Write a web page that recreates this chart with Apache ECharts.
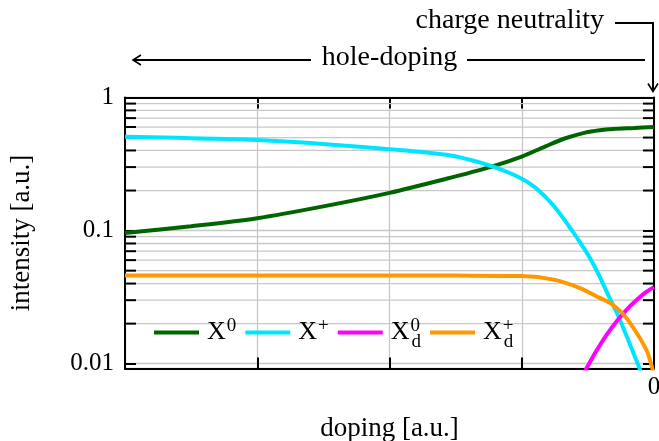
<!DOCTYPE html>
<html>
<head>
<meta charset="utf-8">
<script src="https://cdn.jsdelivr.net/npm/echarts@6/dist/echarts.min.js"></script>
<style>
html,body{margin:0;padding:0;background:#fff;}
#chart{width:659px;height:441px;}
</style>
</head>
<body>
<div id="chart"></div>
<script>
// ---- data ----
const xTickLabels = ['', '', '', '', '0'];
const yTickLabels = ['0.01', '0.1', '1'];
const minorYValues = [0.02,0.03,0.04,0.05,0.06,0.07,0.08,0.09,0.2,0.3,0.4,0.5,0.6,0.7,0.8,0.9];

const neutralDoping    = [-4, -3.5, -3, -2.5, -2, -1.57, -1.24, -1.0, -0.82, -0.67, -0.52, -0.41, -0.31, -0.15, 0];
const neutralIntensity = [0.096, 0.108, 0.124, 0.152, 0.192, 0.245, 0.30, 0.36, 0.43, 0.494, 0.545, 0.568, 0.58, 0.59, 0.60];

const chargedDoping    = [-4, -3.5, -3, -2.5, -2, -1.57, -1.4, -1.22, -1.1, -1.0, -0.93, -0.862, -0.8, -0.736, -0.635, -0.547, -0.45, -0.333, -0.27, -0.118, 0];
const chargedIntensity = [0.508, 0.495, 0.48, 0.447, 0.409, 0.371, 0.342, 0.303, 0.2733, 0.2455, 0.2225, 0.1957, 0.1705, 0.1442, 0.105, 0.0782, 0.054, 0.0308, 0.0228, 0.00968, 0.00476];

const darkNeutralDoping    = [-0.57, -0.509, -0.4345, -0.361, -0.285, -0.2095, -0.134, -0.058, 0];
const darkNeutralIntensity = [0.0072, 0.0093, 0.01254, 0.01633, 0.02065, 0.0253, 0.030, 0.0346, 0.0376];

const darkChargedDoping    = [-4, -3, -2, -1.5, -1.0, -0.76, -0.56, -0.41, -0.333, -0.232, -0.131, -0.055, -0.02, 0];
const darkChargedIntensity = [0.046, 0.046, 0.046, 0.0459, 0.0455, 0.0428, 0.037, 0.0312, 0.0286, 0.0235, 0.017, 0.0125, 0.0098, 0.0082];

const seriesNames = ['X0', 'X+', 'Xd0', 'Xd+'];
const seriesColors = ['#006400', '#00e5ff', '#ff00ff', '#ff9800'];
const seriesSmooth = [0.3, 0.45, 0.3, 0.3];

// ---- chart ----
const FONT = 'Liberation Serif';
const X_MIN = -4, X_MAX = 0, Y_MIN = 0.0092, Y_MAX = 1;

function zip(xs, ys) { return xs.map((x, i) => [x, ys[i]]); }
function isDecade(v) { const l = Math.log10(v); return Math.abs(l - Math.round(l)) < 1e-6; }
function decadeLabel(v) {
  if (!isDecade(v)) return '';
  const l = Math.round(Math.log10(v));
  return yTickLabels[l + 2] || '';
}
const legendText = {
  'X0': '{b|X}{sup|0}',
  'X+': '{b|X}{sup|+}',
  'Xd0': '{b|X}{supz|0}{sub|d}',
  'Xd+': '{b|X}{supz|+}{sub|d}'
};

const chart = echarts.init(document.getElementById('chart'), null, {renderer: 'canvas'});

const gridStyle = {color: '#c8c8c8', width: 1.3};
const axisLineStyle = {color: '#000', width: 2};
const tickStyle = {color: '#000', width: 2};

const lineSeries = [
  [neutralDoping, neutralIntensity],
  [chargedDoping, chargedIntensity],
  [darkNeutralDoping, darkNeutralIntensity],
  [darkChargedDoping, darkChargedIntensity]
].map((d, i) => ({
  name: seriesNames[i],
  type: 'line',
  data: zip(d[0], d[1]),
  smooth: seriesSmooth[i],
  showSymbol: false,
  symbol: 'none',
  clip: true,
  z: 3,
  lineStyle: {color: seriesColors[i], width: 4},
  itemStyle: {color: seriesColors[i]}
}));

const option = {
  animation: false,
  backgroundColor: '#fff',
  grid: {left: 125, right: 5, top: 97.5, bottom: 72.5, containLabel: false, outerBoundsMode: 'none'},
  legend: {
    data: seriesNames,
    left: 149,
    top: 312,
    icon: 'rect',
    itemWidth: 45,
    itemHeight: 4,
    itemGap: 9,
    formatter: name => legendText[name],
    textStyle: {
      fontFamily: FONT,
      color: '#000',
      rich: {
        b: {fontFamily: FONT, fontSize: 26, color: '#000', padding: [0, 0, 0, 3]},
        sup: {fontFamily: FONT, fontSize: 19, color: '#000', padding: [0, 0, 12, 1]},
        supz: {fontFamily: FONT, fontSize: 19, color: '#000', width: 0, padding: [0, 0, 12, 1]},
        sub: {fontFamily: FONT, fontSize: 19, color: '#000', padding: [20, 0, 0, 1]}
      }
    }
  },
  xAxis: [{
    type: 'value', min: X_MIN, max: X_MAX, interval: 1, position: 'bottom',
    name: 'doping [a.u.]', nameLocation: 'middle', nameGap: 47,
    nameTextStyle: {fontFamily: FONT, fontSize: 27, color: '#000'},
    axisLine: {show: true, onZero: false, lineStyle: axisLineStyle},
    axisTick: {show: true, inside: true, length: 11, lineStyle: tickStyle},
    axisLabel: {
      show: true, margin: 6, showMaxLabel: true, showMinLabel: true,
      fontFamily: FONT, fontSize: 25, color: '#000',
      formatter: v => xTickLabels[Math.round(v - X_MIN)] || ''
    },
    splitLine: {show: true, lineStyle: gridStyle}
  }, {
    type: 'value', min: X_MIN, max: X_MAX, interval: 1, position: 'top',
    axisLine: {show: true, onZero: false, lineStyle: axisLineStyle},
    axisTick: {show: true, inside: true, length: 11, lineStyle: tickStyle},
    axisLabel: {show: false},
    splitLine: {show: false}
  }],
  yAxis: [{
    type: 'log', logBase: 10, min: Y_MIN, max: Y_MAX, position: 'left',
    name: 'intensity [a.u.]', nameLocation: 'middle', nameGap: 90, nameRotate: 90,
    nameTextStyle: {fontFamily: FONT, fontSize: 27, color: '#000'},
    axisLine: {show: true, onZero: false, lineStyle: axisLineStyle},
    axisTick: {show: true, inside: true, length: 11, lineStyle: tickStyle},
    axisLabel: {
      show: true, margin: 11, showMaxLabel: true, showMinLabel: true,
      fontFamily: FONT, fontSize: 25, color: '#000',
      formatter: v => decadeLabel(v)
    },
    splitLine: {show: true, lineStyle: gridStyle}
  }, {
    type: 'log', logBase: 10, min: Y_MIN, max: Y_MAX, position: 'right',
    axisLine: {show: true, onZero: false, lineStyle: axisLineStyle},
    axisTick: {show: true, inside: true, length: 11, lineStyle: tickStyle},
    axisLabel: {show: false},
    splitLine: {show: false}
  }],
  series: [{
    name: 'minor',
    type: 'custom',
    xAxisIndex: 0, yAxisIndex: 0,
    z: 1,
    silent: true,
    clip: false,
    data: minorYValues.map(v => [X_MIN, v]),
    encode: {x: 0, y: 1},
    renderItem: function (params, api) {
      const v = api.value(1);
      const p0 = api.coord([X_MIN, v]);
      const p1 = api.coord([X_MAX, v]);
      return {
        type: 'group',
        children: [
          {type: 'line', shape: {x1: p0[0], y1: p0[1], x2: p1[0], y2: p1[1]},
           style: {stroke: gridStyle.color, lineWidth: gridStyle.width}},
          {type: 'line', shape: {x1: p0[0], y1: p0[1], x2: p0[0] + 11, y2: p0[1]},
           style: {stroke: '#000', lineWidth: 2}, z2: 10},
          {type: 'line', shape: {x1: p1[0] - 11, y1: p1[1], x2: p1[0], y2: p1[1]},
           style: {stroke: '#000', lineWidth: 2}, z2: 10}
        ]
      };
    }
  }].concat(lineSeries)
};

chart.setOption(option);

// ---- annotations above the plot, anchored to the axes ----
const xRight = chart.convertToPixel({xAxisIndex: 0}, X_MAX);
const xLeft = chart.convertToPixel({xAxisIndex: 0}, X_MIN);
const yTop = chart.convertToPixel({yAxisIndex: 0}, Y_MAX);
const xMid = (xLeft + xRight) / 2;
const aX = xRight - 1;
const cnY = 23, hdY = 60;

chart.setOption({
  graphic: [
    {type: 'text', x: 604, y: cnY - 2, style: {text: 'charge neutrality', font: '28px "' + FONT + '"', fill: '#000', align: 'right', verticalAlign: 'middle'}},
    {type: 'polyline', shape: {points: [[615, cnY], [aX, cnY], [aX, yTop - 6]]}, style: {stroke: '#000', lineWidth: 2, fill: null}},
    {type: 'polyline', shape: {points: [[aX - 5, yTop - 14], [aX, yTop - 6], [aX + 5, yTop - 14]]}, style: {stroke: '#000', lineWidth: 1.6, fill: null}},
    {type: 'text', x: xMid, y: hdY - 2, style: {text: 'hole-doping', font: '28px "' + FONT + '"', fill: '#000', align: 'center', verticalAlign: 'middle'}},
    {type: 'line', shape: {x1: xLeft + 8, y1: hdY, x2: 311, y2: hdY}, style: {stroke: '#000', lineWidth: 2}},
    {type: 'polyline', shape: {points: [[xLeft + 16, hdY - 5], [xLeft + 8, hdY], [xLeft + 16, hdY + 5]]}, style: {stroke: '#000', lineWidth: 1.6, fill: null}},
    {type: 'line', shape: {x1: 467, y1: hdY, x2: xRight - 9, y2: hdY}, style: {stroke: '#000', lineWidth: 2}}
  ]
});
</script>
</body>
</html>
